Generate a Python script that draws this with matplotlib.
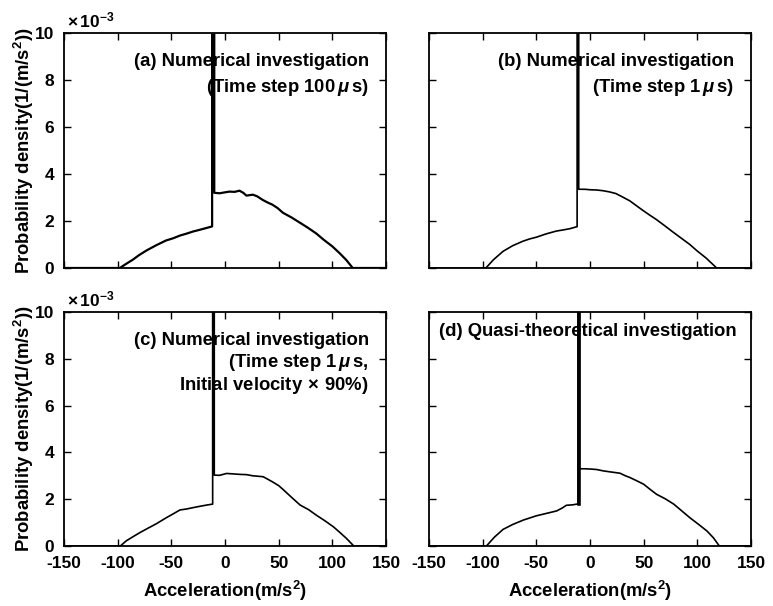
import matplotlib
matplotlib.use("Agg")
import matplotlib.pyplot as plt

plt.rcParams['font.family'] = ['Liberation Sans', 'DejaVu Sans']
plt.rcParams['font.weight'] = 'bold'
plt.rcParams['axes.labelweight'] = 'bold'
plt.rcParams['axes.unicode_minus'] = False
plt.rcParams['mathtext.fontset'] = 'custom'
plt.rcParams['mathtext.rm'] = 'Liberation Sans:bold'
plt.rcParams['mathtext.it'] = 'Liberation Sans:italic:bold'
plt.rcParams['mathtext.bf'] = 'Liberation Sans:bold'

# ---------- data (pdf in units of 1e-3 1/(m/s^2)) ----------
acc_a = [-150, -98, -92, -86, -80, -73, -64, -55, -48, -42, -36, -30, -24, -17.5, -12,
         -12, -10, -10, -5, 0, 4, 9, 13.5, 17, 20, 26, 30, 35, 40, 44, 49, 54,
         62, 69, 77, 85, 92, 100, 107, 113, 119, 150]
pdf_a = [0, 0, 0.18, 0.35, 0.55, 0.75, 0.97, 1.17, 1.27, 1.38, 1.46, 1.55, 1.62, 1.7, 1.77,
         14, 14, 3.2, 3.18, 3.22, 3.25, 3.24, 3.29, 3.2, 3.08, 3.12, 3.05, 2.9, 2.78, 2.7, 2.55, 2.35,
         2.15, 1.95, 1.72, 1.47, 1.2, 0.92, 0.62, 0.34, 0.0, 0]

acc_b = [-150, -97, -90, -81, -72, -62.5, -56, -50, -41, -31.5, -25, -19, -12,
         -12, -10.5, -10.5, -5, 0, 6, 12, 18, 24, 30, 37, 43, 49, 55,
         61.6, 69, 77, 85, 93, 100, 108, 118, 150]
pdf_b = [0, 0, 0.35, 0.71, 0.95, 1.14, 1.24, 1.31, 1.45, 1.57, 1.62, 1.67, 1.76,
         14, 14, 3.35, 3.35, 3.33, 3.32, 3.29, 3.24, 3.17, 3.03, 2.86, 2.66, 2.46, 2.27,
         2.07, 1.82, 1.54, 1.27, 1.0, 0.72, 0.43, 0.0, 0]

acc_c = [-150, -97.5, -92, -85.6, -79, -73, -64, -54.6, -48, -42, -36, -29.7, -23, -17, -11.5,
         -11.5, -10, -10, -5, 1.4, 8, 14, 20, 26, 31, 35.6, 40, 45, 50, 54,
         62, 70, 78, 85, 93, 101, 107, 113, 120, 150]
pdf_c = [0, 0, 0.22, 0.4, 0.58, 0.73, 0.95, 1.21, 1.38, 1.54, 1.58, 1.64, 1.7, 1.75, 1.79,
         14, 14, 3.03, 3.02, 3.1, 3.08, 3.06, 3.05, 3.0, 2.98, 2.96, 2.85, 2.72, 2.58, 2.42,
         2.08, 1.75, 1.55, 1.32, 1.08, 0.82, 0.58, 0.33, 0.0, 0]

acc_d = [-150, -96.5, -89, -81, -72, -62, -56, -50, -40, -31, -26, -22, -16, -11.2,
         -11.2, -9.8, -9.8, -5, 0, 6, 12.4, 20, 28, 33, 37, 43, 50, 56,
         62, 70, 78, 85, 93, 101, 109, 115, 120.5, 150]
pdf_d = [0, 0, 0.38, 0.71, 0.92, 1.11, 1.2, 1.29, 1.4, 1.5, 1.62, 1.74, 1.76, 1.8,
         14, 14, 3.3, 3.3, 3.29, 3.27, 3.21, 3.16, 3.11, 3.0, 2.93, 2.8, 2.64, 2.42,
         2.21, 2.02, 1.79, 1.52, 1.21, 0.93, 0.64, 0.35, 0.0, 0]

xticks = [-150, -100, -50, 0, 50, 100, 150]
yticks = [0, 2, 4, 6, 8, 10]

notes_a = ["(a) Numerical investigation", "(Time step 100$\\,\\mu\\,$s)"]
notes_b = ["(b) Numerical investigation", "(Time step 1$\\,\\mu\\,$s)"]
notes_c = ["(c) Numerical investigation", "(Time step 1$\\,\\mu\\,$s,",
           "Initial velocity$\\,\\times\\,$90%)"]
notes_d = ["(d) Quasi-theoretical investigation"]

W, H = 773, 606
fig = plt.figure(figsize=(7.73, 6.06), dpi=100)

def make_ax(l, t, r, b):
    return fig.add_axes([l / W, 1 - b / H, (r - l) / W, (b - t) / H])

ax_a = make_ax(64, 33, 386, 268)
ax_b = make_ax(429, 33, 751, 268)
ax_c = make_ax(64, 312, 386, 546)
ax_d = make_ax(429, 312, 751, 546)

panels = [
    (ax_a, acc_a, pdf_a, notes_a, 'right', [0.877, 0.766], 1.6),
    (ax_b, acc_b, pdf_b, notes_b, 'right', [0.877, 0.766], 1.2),
    (ax_c, acc_c, pdf_c, notes_c, 'right', [0.877, 0.783, 0.685], 1.2),
    (ax_d, acc_d, pdf_d, notes_d, 'left', [0.915], 1.2),
]

for ax, x, y, notes, ha, ys, lw in panels:
    ax.plot(x, y, color='black', lw=lw)
    ax.set_xlim(-150, 150)
    ax.set_ylim(0, 10)
    ax.set_xticks(xticks)
    ax.set_yticks(yticks)
    ax.tick_params(direction='in', length=5, width=1.0, top=True, right=True,
                   labelsize=12.5, pad=7)
    for s in ax.spines.values():
        s.set_linewidth(1.3)
    xpos = 0.947 if ha == 'right' else 0.03
    for txt, yy in zip(notes, ys):
        ax.text(xpos, yy, txt, transform=ax.transAxes, ha=ha, va='center',
                fontsize=13.3)

# the spike in (d) is drawn thicker
ax_d.plot([-10.5, -10.5], [1.8, 10], color='black', lw=2.6)

for ax in (ax_a, ax_c):
    ax.set_ylabel("Probability density(1/(m/s$^2$))", fontsize=13.3, labelpad=-1)
    ax.text(0.01, 1.01, "$\\times\\,$10$^{-3}$", transform=ax.transAxes,
            ha='left', va='bottom', fontsize=12.5)

for ax in (ax_b, ax_d):
    ax.tick_params(labelleft=False)

for ax in (ax_a, ax_b):
    ax.tick_params(labelbottom=False)

for ax in (ax_c, ax_d):
    ax.set_xlabel("Acceleration(m/s$^2$)", fontsize=13.3, labelpad=6)

fig.savefig("out.png", dpi=100)
